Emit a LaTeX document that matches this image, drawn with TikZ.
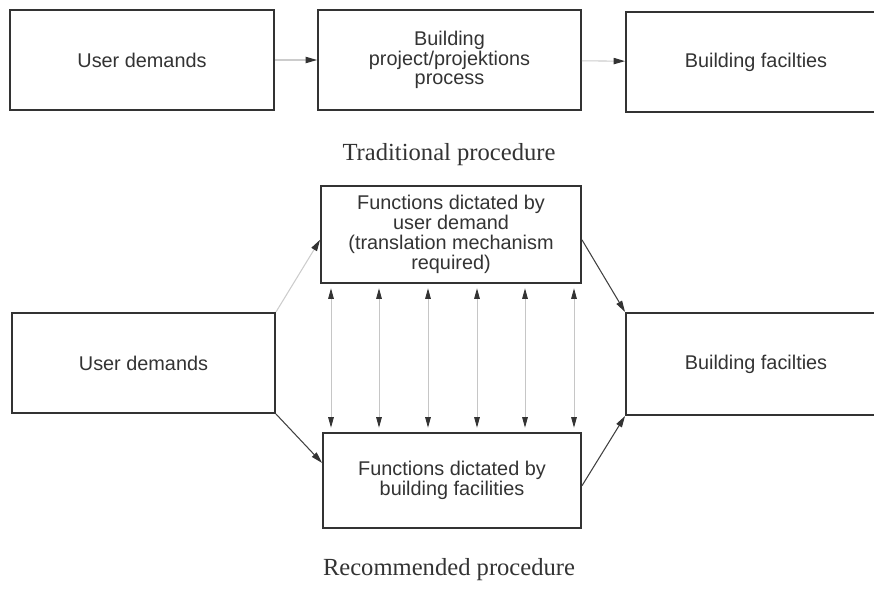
\documentclass[tikz,border=0pt]{standalone}
\usepackage{fontspec}
\setmainfont{Liberation Serif}
\setsansfont{Liberation Sans}
\usetikzlibrary{arrows.meta}
\tikzset{
  kasten/.style={draw=black!80, line width=1.1pt, align=center,
    font=\sffamily\fontsize{11.3}{11.3}\selectfont, text=black!80,
    minimum width=5.2cm, minimum height=2cm, inner sep=0pt},
  pfeil/.style={-{Triangle[length=6.5pt,width=3.6pt,color=black!80]}, line width=0.6pt},
  doppel/.style={{Triangle[length=6pt,width=3.2pt,color=black!80]}-{Triangle[length=6pt,width=3.2pt,color=black!80]},
    line width=0.5pt, gray!45, shorten >=2.5pt, shorten <=2.5pt},
  titel/.style={font=\fontsize{14}{14}\selectfont, text=black!80}
}
\begin{document}
\begin{tikzpicture}[x=0.02cm,y=-0.02cm]
      \useasboundingbox (0,0) rectangle (874,588);

      % Traditionell
      \node[kasten, minimum width=5.28cm] (ud1) at (142,60) {User demands};
      \node[kasten, minimum width=5.26cm] (proj) at (449.5,60) {Building\\project/projektions\\process};
      \node[kasten] (bf1) at (756,62) {Building facilties};
      \draw[pfeil, gray!40] (ud1) -- (proj);
      \draw[pfeil, gray!40] (proj) -- (bf1);
      \node[titel] (trad) at (449,155) {Traditional procedure};

      % Empfohlen
      \node[kasten, minimum height=1.94cm] (fu1) at (451,234.5) {Functions dictated by\\user demand\\(translation mechanism\\required)};
      \node[kasten, minimum width=5.26cm] (ud2) at (143.5,363) {User demands};
      \node[kasten, minimum height=2.04cm] (bf2) at (756,364) {Building facilties};
      \node[kasten, minimum width=5.16cm, minimum height=1.9cm] (fu2) at (452,480.5) {Functions dictated by\\building facilities};
      \foreach \x in {331,379,428,477,525,574}
        \draw[doppel] (\x,0 |- fu1.south) -- (\x,0 |- fu2.north);
      \draw[pfeil, gray!40] (ud2.north east) -- ([yshift=-3pt]fu1.west);
      \draw[pfeil, black!75] (ud2.south east) -- ([yshift=10pt]fu2.west);
      \draw[pfeil, black!75] ([yshift=-3pt]fu1.east) -- (bf2.north west);
      \draw[pfeil, black!75] ([yshift=-3pt]fu2.east) -- (bf2.south west);
      \node[titel] (empf) at (449,570) {Recommended procedure};
    \end{tikzpicture}
\end{document}
